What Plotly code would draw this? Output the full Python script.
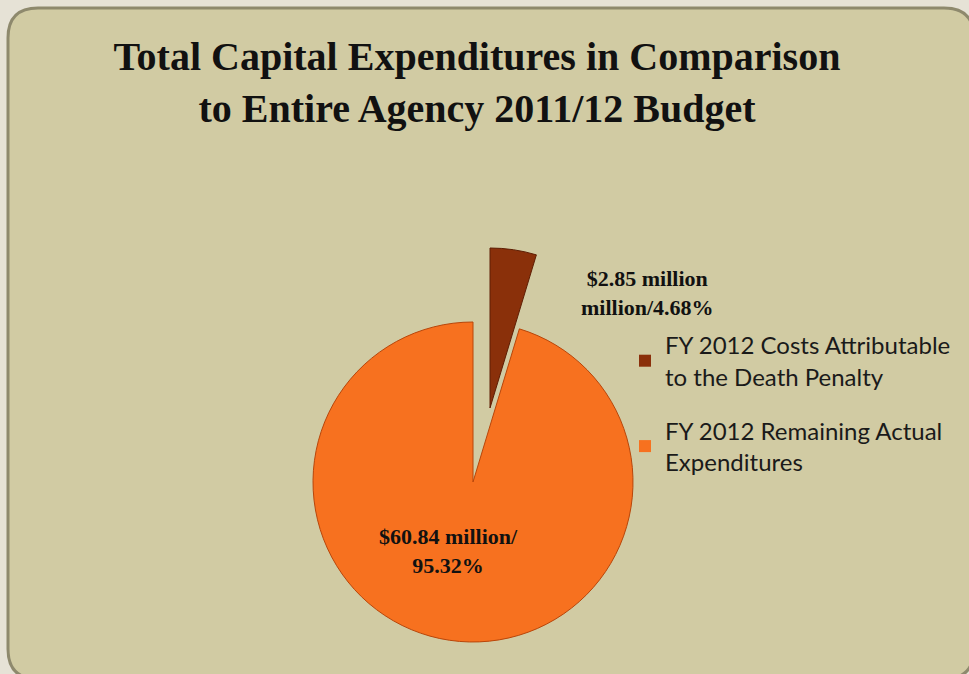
import plotly.graph_objects as go

# ---- data -------------------------------------------------------------
categories = [
    "FY 2012 Costs Attributable<br>to the Death Penalty",
    "FY 2012 Remaining Actual<br>Expenditures",
]
shares_pct = [4.68, 95.32]          # share of the agency budget, %
amounts_musd = [2.85, 60.84]        # $ million
slice_colors = ["#8A300A", "#F7711F"]

title_lines = [
    "Total Capital Expenditures in Comparison",
    "to Entire Agency 2011/12 Budget",
]

W, H = 969, 674
BG_OUT = "#E6E2D6"
BG_IN = "#D1CBA3"
SERIF = "Liberation Serif"
SANS = "Lato"
TRANSPARENT = "rgba(0,0,0,0)"


def px_x(v):
    return v / W


def px_y(v):
    return 1 - v / H


def box(cx, cy, r):
    """Pie domain (paper fractions) for a pie centred at pixel (cx, cy)."""
    return dict(x=[px_x(cx - r), px_x(cx + r)], y=[px_y(cy + r), px_y(cy - r)])


R = 160
main_center = (473, 482)
pulled_center = (490, 408)

fig = go.Figure()

# legend carriers: one tiny pie per category, tucked under the main pie
for i, (lab, col) in enumerate(zip(categories, slice_colors)):
    fig.add_trace(go.Pie(
        labels=[lab], values=[shares_pct[i]],
        marker=dict(colors=[col], line=dict(width=0)),
        domain=box(400, 600, 1),
        textinfo="none", hoverinfo="skip", sort=False,
        legendgroup=f"g{i}", showlegend=True,
    ))

# main pie: the large slice, with the small one left as a gap
fig.add_trace(go.Pie(
    labels=categories, values=shares_pct,
    marker=dict(colors=[TRANSPARENT, slice_colors[1]],
                line=dict(color=[TRANSPARENT, "#B8460A"], width=[0, 1])),
    domain=box(*main_center, R),
    sort=False, direction="clockwise", rotation=0,
    textinfo="none", showlegend=False,
    customdata=amounts_musd,
    hovertemplate="%{label}<br>$%{customdata} million / %{value}%<extra></extra>",
))

# exploded small slice
fig.add_trace(go.Pie(
    labels=categories, values=shares_pct,
    marker=dict(colors=[slice_colors[0], TRANSPARENT],
                line=dict(color=["#5E1E04", TRANSPARENT], width=[1, 0])),
    domain=box(*pulled_center, R),
    sort=False, direction="clockwise", rotation=0,
    textinfo="none", showlegend=False,
    customdata=amounts_musd,
    hovertemplate="%{label}<br>$%{customdata} million / %{value}%<extra></extra>",
))

# value labels
small_label = f"<b>${amounts_musd[0]:.2f} million<br>million/{shares_pct[0]:.2f}%</b>"
large_label = f"<b>${amounts_musd[1]:.2f} million/<br>{shares_pct[1]:.2f}%</b>"

label_font = dict(family=SERIF, size=22, color="#111")
annotations = [
    dict(text=small_label, x=px_x(647), y=px_y(293), xref="paper", yref="paper",
         xanchor="center", yanchor="middle",
         showarrow=False, align="center", font=label_font),
    dict(text=large_label, x=px_x(448), y=px_y(551), xref="paper", yref="paper",
         xanchor="center", yanchor="middle",
         showarrow=False, align="center", font=label_font),
]

# rounded panel behind the chart
x0, y0, x1, y1 = px_x(8), px_y(8), px_x(974), px_y(679)
rx, ry = 30 / W, 30 / H
panel = (
    f"M {x0},{y0 - ry} Q {x0},{y0} {x0 + rx},{y0} "
    f"L {x1 - rx},{y0} Q {x1},{y0} {x1},{y0 - ry} "
    f"L {x1},{y1 + ry} Q {x1},{y1} {x1 - rx},{y1} "
    f"L {x0 + rx},{y1} Q {x0},{y1} {x0},{y1 + ry} Z"
)

fig.update_layout(
    width=W, height=H,
    margin=dict(l=0, r=0, t=0, b=0),
    paper_bgcolor=BG_OUT,
    plot_bgcolor=BG_IN,
    title=dict(
        text="<b>" + "<br>".join(title_lines) + "</b>",
        x=px_x(477), xanchor="center",
        y=px_y(70), yanchor="top",
        font=dict(family=SERIF, size=40, color="#111"),
    ),
    shapes=[dict(type="path", path=panel, xref="paper", yref="paper",
                 fillcolor=BG_IN, line=dict(color="#8E896D", width=3), layer="below")],
    annotations=annotations,
    legend=dict(
        x=px_x(625), xanchor="left", y=px_y(323), yanchor="top",
        font=dict(family=SANS, size=24, color="#1A1A1A"),
        bgcolor=TRANSPARENT, traceorder="grouped", tracegroupgap=20,
    ),
    hoverlabel=dict(font=dict(family=SANS)),
)

fig.write_html("out.html")
